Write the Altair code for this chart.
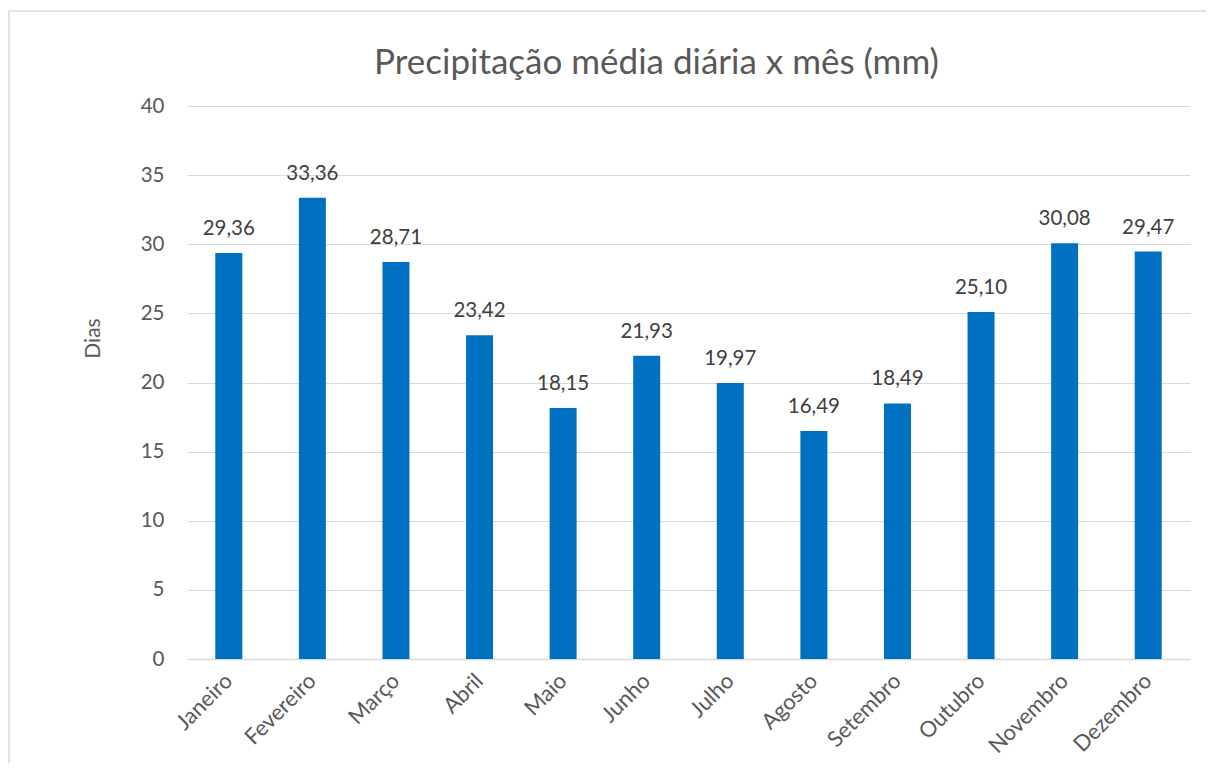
import altair as alt
import pandas as pd

meses = ["Janeiro", "Fevereiro", "Março", "Abril", "Maio", "Junho",
         "Julho", "Agosto", "Setembro", "Outubro", "Novembro", "Dezembro"]
valores = [29.36, 33.36, 28.71, 23.42, 18.15, 21.93,
           19.97, 16.49, 18.49, 25.10, 30.08, 29.47]
y_ticks = [0, 5, 10, 15, 20, 25, 30, 35, 40]
titulo = "Precipitação média diária x mês (mm)"

df = pd.DataFrame({"mes": meses, "valor": valores})

FONT = "Lato"
GREY = "#595959"
BLUE = "#0070C0"

base = alt.Chart(df).transform_calculate(
    rotulo="replace(format(datum.valor, '.2f'), '.', ',')"
)

x_enc = alt.X(
    "mes:N", sort=meses, title=None,
    scale=alt.Scale(paddingInner=0.0, paddingOuter=0.0),
    axis=alt.Axis(labelAngle=-45, labelAlign="right", labelBaseline="middle",
                  labelFont=FONT, labelFontSize=22, labelColor=GREY,
                  labelPadding=18, ticks=False, domainColor="#D9D9D9",
                  domainWidth=1.5, grid=False),
)
y_enc = alt.Y(
    "valor:Q", title="Dias",
    scale=alt.Scale(domain=[0, 40], nice=False),
    axis=alt.Axis(values=y_ticks, labelFont=FONT, labelFontSize=20.5, labelColor=GREY,
                  labelPadding=23, ticks=False, domain=False, gridColor="#D9D9D9",
                  gridWidth=1, titleFont=FONT, titleFontSize=21, titleColor=GREY,
                  titleFontWeight="normal", titleX=-94, titleY=232,
                  titleAlign="center", titleBaseline="middle", titleAngle=-90),
)

bars = base.mark_bar(size=27, color=BLUE).encode(x=x_enc, y=y_enc)
labels = base.mark_text(font=FONT, fontSize=20.5, color="#404040",
                        baseline="alphabetic", dy=-18).encode(
    x=alt.X("mes:N", sort=meses), y="valor:Q", text="rotulo:N")

one = pd.DataFrame({"t": [titulo]})
border = alt.Chart(one).mark_rect(
    fill="transparent", stroke="#D9D9D9", strokeWidth=1.5
).encode(x=alt.value(-178), x2=alt.value(1060), y=alt.value(-95), y2=alt.value(700))

title_mark = alt.Chart(one).mark_text(
    font=FONT, fontSize=35, color=GREY, align="center", baseline="alphabetic"
).encode(x=alt.value(469.5), y=alt.value(-32), text="t:N")

chart = alt.layer(bars, labels, border, title_mark).properties(
    width=1003, height=553,
    autosize=alt.AutoSizeParams(type="none"),
    padding={"left": 179, "top": 98, "right": 16, "bottom": 104},
).configure_view(stroke=None)

chart.save("out.html", embed_options={"renderer": "svg", "actions": False})
